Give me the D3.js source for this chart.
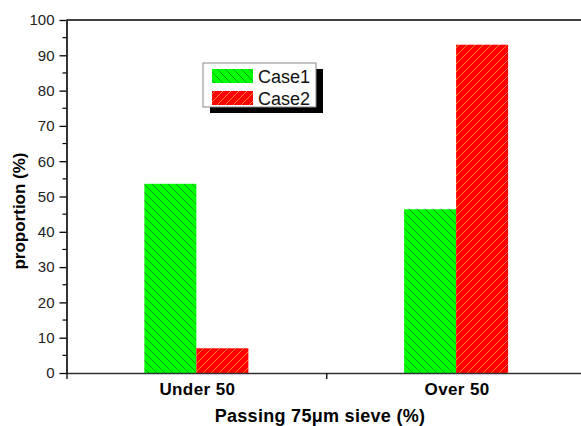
<!DOCTYPE html>
<html>
<head>
<meta charset="utf-8">
<script src="https://cdn.jsdelivr.net/npm/d3@7"></script>
<style>
  body { margin: 0; background: #fff; }
  svg { display: block; font-family: "Liberation Sans", Arial, sans-serif; }
</style>
</head>
<body>
<div id="chart"></div>
<script>
// 資料
const categories = ["Under 50", "Over 50"];
const seriesNames = ["Case1", "Case2"];
const case1 = [53.6, 46.4];
const case2 = [7.0, 93.0];
const yTicks = [0, 10, 20, 30, 40, 50, 60, 70, 80, 90, 100];

const W = 581, H = 426;
const margin = {top: 20, left: 66.5, bottom: 53};
const plotRight = 586; // 圖框右邊超出畫面
const FONT = "'Liberation Sans', Arial, sans-serif";

const svg = d3.select("#chart").append("svg")
    .attr("width", W).attr("height", H);

// 斜線 pattern
const defs = svg.append("defs");
function hatch(id, bg, line, dir) {
    const p = defs.append("pattern")
        .attr("id", id)
        .attr("patternUnits", "userSpaceOnUse")
        .attr("width", 8).attr("height", 8);
    p.append("rect").attr("width", 8).attr("height", 8).attr("fill", bg);
    const d = dir > 0
        ? "M-2,10 L10,-2 M-2,2 L2,-2 M6,10 L10,6"
        : "M-2,-2 L10,10 M-2,6 L2,10 M6,-2 L10,2";
    p.append("path").attr("d", d)
        .attr("stroke", line).attr("stroke-width", 0.9);
}
hatch("hatch1", "#00ff00", "#119911", -1);
hatch("hatch2", "#ff0000", "#ff8a1a", 1);

// 比例尺
const x = d3.scaleLinear().domain([0.5, 2.5]).range([margin.left, plotRight]);
const y = d3.scaleLinear().domain([0, 100]).range([H - margin.bottom, margin.top]);
const barW = 52;

const data = categories.map((c, i) => ({cat: c, i: i + 1, v1: case1[i], v2: case2[i]}));

// bars
svg.selectAll(".bar1").data(data).enter().append("rect")
    .attr("x", d => x(d.i) - barW)
    .attr("y", d => y(d.v1))
    .attr("width", barW)
    .attr("height", d => y(0) - y(d.v1))
    .attr("fill", "url(#hatch1)");

svg.selectAll(".bar2").data(data).enter().append("rect")
    .attr("x", d => x(d.i))
    .attr("y", d => y(d.v2))
    .attr("width", barW)
    .attr("height", d => y(0) - y(d.v2))
    .attr("fill", "url(#hatch2)");

// y 軸
const yAxis = svg.append("g")
    .attr("transform", `translate(${margin.left},0)`)
    .call(d3.axisLeft(y).tickValues(yTicks).tickSize(7).tickPadding(5).tickSizeOuter(0))
    .attr("font-size", 15).attr("font-family", FONT);
yAxis.select(".domain").attr("stroke", "#000").attr("stroke-width", 1.6);
yAxis.selectAll(".tick line").attr("stroke", "#000").attr("stroke-width", 1.3);
yAxis.selectAll("text").attr("fill", "#222");

// minor ticks
svg.append("g").selectAll("line")
    .data(d3.range(5, 100, 10)).enter().append("line")
    .attr("x1", margin.left - 4).attr("x2", margin.left)
    .attr("y1", d => y(d)).attr("y2", d => y(d))
    .attr("stroke", "#000").attr("stroke-width", 1.2);

// x 軸
const xAxis = svg.append("g")
    .attr("transform", `translate(0,${y(0)})`)
    .call(d3.axisBottom(x).tickValues([0.5, 1.5, 2.5]).tickSize(6).tickFormat("").tickSizeOuter(0));
xAxis.select(".domain").attr("stroke", "#333").attr("stroke-width", 1.6);
xAxis.selectAll(".tick line").attr("stroke", "#000").attr("stroke-width", 1.3);

svg.selectAll(".xlabel").data(data).enter().append("text")
    .attr("x", d => x(d.i) + 1)
    .attr("y", 395)
    .attr("text-anchor", "middle")
    .attr("font-size", 17).attr("font-weight", "bold")
    .attr("letter-spacing", 0.4)
    .text(d => d.cat);

// 上框
svg.append("line")
    .attr("x1", margin.left).attr("x2", plotRight)
    .attr("y1", y(100)).attr("y2", y(100))
    .attr("stroke", "#000").attr("stroke-width", 1.6);

// 軸標題
svg.append("text")
    .attr("x", 320).attr("y", 422)
    .attr("text-anchor", "middle")
    .attr("font-size", 18).attr("font-weight", "bold")
    .attr("letter-spacing", 0.3)
    .text("Passing 75\u03bcm sieve (%)");

svg.append("text")
    .attr("transform", "translate(25,211) rotate(-90)")
    .attr("text-anchor", "middle")
    .attr("font-size", 17).attr("font-weight", "bold")
    .text("proportion (%)");

// legend
const lg = svg.append("g").attr("transform", "translate(203,63)");
lg.append("rect").attr("x", 7).attr("y", 6).attr("width", 113).attr("height", 44).attr("fill", "#000");
lg.append("rect").attr("width", 113).attr("height", 44)
    .attr("fill", "#fff").attr("stroke", "#888").attr("stroke-width", 1);
seriesNames.forEach((s, i) => {
    lg.append("rect")
        .attr("x", 9).attr("y", 6 + i * 22)
        .attr("width", 41).attr("height", 14)
        .attr("fill", i === 0 ? "url(#hatch1)" : "url(#hatch2)");
    lg.append("text")
        .attr("x", 55).attr("y", 20 + i * 22)
        .attr("font-size", 18).attr("fill", "#111")
        .text(s);
});
</script>
</body>
</html>
